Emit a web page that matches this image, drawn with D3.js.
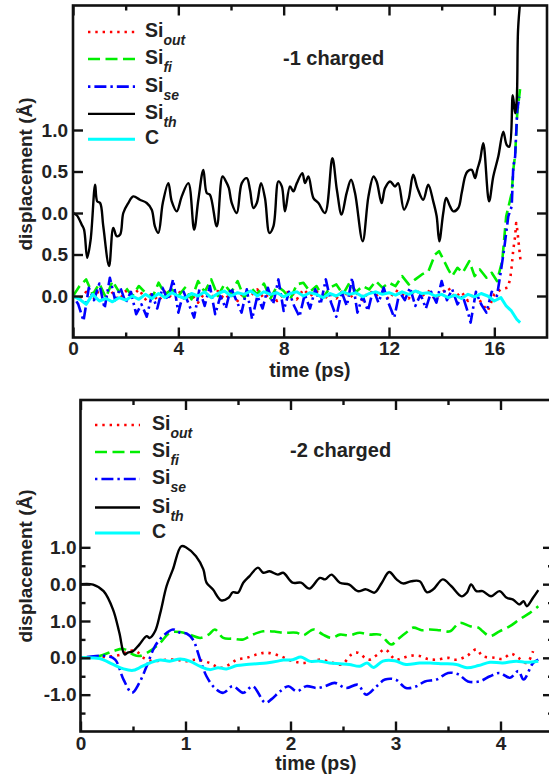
<!DOCTYPE html>
<html><head><meta charset="utf-8">
<script src="https://cdn.jsdelivr.net/npm/d3@7"></script>
<style>
body{margin:0;background:#fff}
svg text{font-family:"Liberation Sans",Arial,Helvetica,sans-serif;font-weight:bold;fill:#222}
</style>
</head><body>
<svg id="c" width="549" height="777"></svg>
<script>
// ---------------- DATA ----------------
// Top panel (-1 charged), time in ps, displacement (offset coordinates as plotted)
const topOutT = [0,0.25,0.5,0.75,1,1.25,1.5,1.75,2,2.25,2.5,2.75,3,3.25,3.5,3.75,4,4.25,4.5,4.75,5,5.25,5.5,5.75,6,6.25,6.5,6.75,7,7.25,7.5,7.75,8,8.25,8.5,8.75,9,9.25,9.5,9.75,10,10.25,10.5,10.75,11,11.25,11.5,11.75,12,12.25,12.5,12.75,13,13.25,13.5,13.75,14,14.25,14.5,14.75,15,15.25,15.5,15.75,16,16.25,16.5,16.6,16.66,16.72,16.79,16.83,16.87,16.95,16.99];
const topOutV = [0,-0.03,0.05,-0.06,0.08,-0.02,0.04,-0.05,0.06,0,0.08,-0.04,0.03,-0.06,0.05,-0.02,0.07,-0.05,0.02,-0.08,0.04,-0.02,0.06,-0.04,0.03,-0.06,0.05,0,0.08,-0.03,0.04,-0.06,0.02,0.06,-0.04,0.08,0,0.06,-0.05,0.03,-0.03,0.07,-0.02,0.04,-0.05,0.06,0,0.05,-0.04,0.07,0.02,-0.03,0.08,0,0.06,-0.04,0.04,0.1,-0.02,0.05,-0.06,0.04,-0.08,-0.18,0.02,0.08,0.1,0.2,0.36,0.56,0.72,0.88,0.8,0.56,0.44];

const topFiT = [0,0.25,0.5,0.75,1,1.25,1.5,1.75,2,2.25,2.5,2.75,3,3.25,3.5,3.75,4,4.25,4.5,4.75,5,5.25,5.5,5.75,6,6.25,6.5,6.75,7,7.25,7.5,7.75,8,8.25,8.5,8.75,9,9.25,9.5,9.75,10,10.25,10.5,10.75,11,11.25,11.5,11.75,12,12.25,12.5,12.75,13,13.25,13.5,13.75,13.9,14,14.25,14.4,14.6,14.8,15.05,15.25,15.45,15.7,15.9,16.1,16.3,16.45,16.66,16.72,16.79,16.87,16.98];
const topFiV = [0,0.12,0.2,0.02,0.15,-0.02,0.18,0.05,0.1,0,0.12,0.04,-0.03,0.16,0.02,0.08,0,0.1,-0.04,0.18,0.05,0.2,0,0.14,0.04,0.18,-0.02,0.1,0.02,0.15,-0.03,0.12,0.06,-0.04,0.14,0.16,0.05,0.12,-0.02,0.1,0.14,0.02,0.16,0.05,0.12,0.08,0.18,0.1,0.16,0.12,0.24,0.14,0.2,0.26,0.3,0.5,0.54,0.48,0.32,0.24,0.34,0.28,0.42,0.24,0.32,0.22,0.28,0.18,0.42,0.96,1.24,1.52,1.7,2.2,2.5];

const topSeT = [0,0.2,0.4,0.6,0.8,1,1.2,1.4,1.6,1.8,2,2.2,2.4,2.6,2.8,3,3.2,3.4,3.6,3.8,4,4.2,4.4,4.6,4.8,5,5.2,5.4,5.6,5.8,6,6.2,6.4,6.6,6.8,7,7.2,7.4,7.6,7.8,8,8.2,8.4,8.6,8.8,9,9.2,9.4,9.6,9.8,10,10.2,10.4,10.6,10.8,11,11.2,11.4,11.6,11.8,12,12.2,12.4,12.6,12.8,13,13.2,13.4,13.6,13.8,14,14.2,14.4,14.6,14.8,15,15.1,15.3,15.5,15.7,15.9,16.1,16.22,16.37,16.53,16.66,16.72,16.79,16.87,16.95];
const topSeV = [0,-0.1,-0.3,0.1,-0.05,0.15,-0.15,0.22,-0.05,0.1,-0.08,0.05,-0.22,-0.1,-0.25,0.02,-0.15,0.1,-0.05,0.2,-0.2,0.05,-0.1,-0.26,0.08,-0.12,0.12,-0.22,0,-0.15,0.1,-0.05,-0.2,0.08,-0.28,0,-0.15,0.1,-0.1,0.2,-0.18,0.05,-0.12,-0.25,0.02,-0.15,0.08,-0.1,0.2,-0.08,-0.25,0.05,-0.12,0.22,-0.2,0,-0.18,0.08,-0.08,0.1,-0.1,-0.26,0.05,-0.05,0.1,-0.12,0.02,-0.15,0.05,-0.08,0.18,-0.05,0.08,-0.1,0,-0.2,-0.32,0.05,-0.1,-0.2,0.05,0,0.24,0.56,0.96,1.08,1.56,1.68,2.24,2.4];

const topThT = [0,0.15,0.33,0.42,0.54,0.67,0.84,0.92,1.03,1.15,1.37,1.53,1.66,1.79,1.91,2.1,2.29,2.54,2.8,2.99,3.11,3.24,3.41,3.62,3.75,3.94,4.13,4.38,4.6,4.76,4.95,5.08,5.2,5.46,5.68,5.84,5.92,6.03,6.22,6.41,6.6,6.72,6.85,6.98,7.14,7.29,7.46,7.61,7.8,7.93,8.05,8.24,8.37,8.5,8.71,8.81,8.94,9.13,9.32,9.57,9.85,10.02,10.2,10.39,10.56,10.71,11,11.22,11.41,11.53,11.72,11.85,12.04,12.23,12.35,12.57,12.74,12.92,13.08,13.3,13.49,13.68,13.81,13.91,14.06,14.17,14.32,14.44,14.63,14.76,14.89,14.98,15.14,15.27,15.35,15.46,15.58,15.8,15.96,16.15,16.34,16.47,16.57,16.7,16.79,16.85,16.9,16.98,17.05];
const topThV = [1,0.97,0.86,0.8,0.46,0.68,1.34,1.14,1.12,0.84,0.36,0.82,0.72,0.74,1,1.12,1.2,1.16,1.12,1.04,0.84,0.76,1.12,1.36,1.14,1.02,1.2,1.36,0.8,1.16,1.52,1.24,1.22,0.84,1.44,1.36,1.3,1.12,1,1.36,1.42,1.28,1.06,1.12,1.36,1.18,0.76,0.84,1.38,1.32,1.02,1.32,1.26,1.36,1.48,1.36,1.44,1.18,1.12,1,1.66,1.28,0.98,1.24,1.4,1.24,0.66,1.2,1.44,1.38,1.12,1.3,1.38,1.32,1.36,1.04,1.16,1.46,1.3,1.16,1.34,1.14,0.96,0.66,1,1.18,1.08,1.02,1.06,1.24,1.44,1.5,1.52,1.42,1.52,1.64,1.84,1.14,1.44,1.68,1.98,1.82,1.8,2.42,2.2,2.36,3.2,3.56,3.9];

const topCT = [0,0.25,0.5,0.75,1,1.25,1.5,1.75,2,2.25,2.5,2.75,3,3.25,3.5,3.75,4,4.25,4.5,4.75,5,5.25,5.5,5.75,6,6.25,6.5,6.75,7,7.25,7.5,7.75,8,8.25,8.5,8.75,9,9.25,9.5,9.75,10,10.25,10.5,10.75,11,11.25,11.5,11.75,12,12.25,12.5,12.75,13,13.25,13.5,13.75,14,14.25,14.5,14.75,15,15.25,15.5,15.75,16,16.25,16.45,16.65,16.85,16.98];
const topCV = [0,-0.04,-0.1,0.02,-0.06,-0.03,-0.07,-0.02,-0.05,0,-0.04,0.02,-0.03,0.03,-0.02,0.04,0,-0.03,0.03,0,0.05,-0.02,0.03,0.06,0,0.04,0.02,0.06,0,0.05,0.02,0.04,-0.01,0.03,0.05,0,0.04,0.02,-0.02,0.03,0,0.05,0.02,0.04,-0.01,0.03,0.05,0.02,0.04,0.01,0.05,0.02,0.06,0.03,0.04,0,0.02,-0.02,0.01,-0.03,0.02,-0.01,0.03,0,-0.06,-0.02,-0.12,-0.18,-0.28,-0.32];

// Bottom panel (-2 charged)
const botOutT = [0,0.25,0.39,0.45,0.53,0.6,0.69,0.79,0.91,1.01,1.1,1.23,1.33,1.42,1.49,1.58,1.68,1.77,1.9,2.02,2.12,2.22,2.28,2.41,2.49,2.58,2.64,2.71,2.75,2.83,2.9,3,3.07,3.15,3.23,3.31,3.39,3.5,3.58,3.68,3.77,3.83,3.95,4.02,4.1,4.17,4.25,4.31];
const botOutV = [0,0.03,0.09,0.18,0.18,0,-0.09,-0.06,-0.05,-0.09,-0.05,-0.14,-0.27,-0.18,-0.05,0,0.09,0.14,0.05,-0.09,-0.14,-0.09,-0.05,-0.14,-0.18,0.09,0.14,0,-0.05,0.09,0.23,-0.05,0,0.06,0.05,-0.03,-0.05,0,-0.05,0.05,0.23,0.05,0,-0.03,0.11,0,-0.14,0.18];

const botFiT = [0,0.18,0.31,0.41,0.5,0.56,0.66,0.76,0.85,0.95,1.04,1.14,1.22,1.28,1.36,1.45,1.55,1.64,1.74,1.86,1.93,2.06,2.12,2.22,2.31,2.39,2.47,2.56,2.66,2.75,2.85,2.96,3.02,3.1,3.17,3.25,3.33,3.42,3.52,3.61,3.71,3.79,3.83,3.9,3.99,4.09,4.18,4.28,4.36];
const botFiV = [0,0.05,0.18,0.24,0.09,0.05,0.18,0.41,0.68,0.7,0.63,0.54,0.63,0.77,0.54,0.52,0.5,0.63,0.72,0.71,0.68,0.68,0.61,0.77,0.63,0.54,0.63,0.61,0.68,0.63,0.63,0.36,0.5,0.68,0.82,0.75,0.77,0.75,0.72,0.95,0.86,0.82,0.72,0.59,0.72,0.86,1.04,1.22,1.4];

const botSeT = [0,0.25,0.33,0.41,0.49,0.56,0.63,0.71,0.8,0.88,0.95,1.01,1.07,1.14,1.2,1.28,1.36,1.45,1.55,1.64,1.76,1.82,1.9,1.98,2.06,2.15,2.25,2.33,2.42,2.53,2.64,2.72,2.82,2.9,3,3.1,3.2,3.28,3.39,3.5,3.6,3.69,3.8,3.9,3.99,4.09,4.17,4.22,4.31,4.36];
const botSeV = [0,0.05,-0.05,-0.59,-0.95,-0.68,-0.23,0.32,0.63,0.77,0.68,0.66,0.5,-0.05,-0.5,-0.82,-0.95,-0.77,-0.95,-0.77,-1.22,-1.12,-0.91,-0.77,-0.91,-0.77,-0.82,-0.77,-0.68,-0.82,-0.73,-1,-0.77,-0.59,-0.59,-0.82,-0.77,-0.64,-0.59,-0.41,-0.45,-0.64,-0.64,-0.5,-0.41,-0.54,-0.36,-0.59,-0.14,-0.05];

const botThT = [0,0.12,0.22,0.31,0.37,0.42,0.45,0.5,0.56,0.63,0.66,0.71,0.76,0.82,0.88,0.96,1.01,1.1,1.17,1.2,1.26,1.34,1.41,1.45,1.5,1.55,1.61,1.69,1.74,1.8,1.88,1.93,2.02,2.1,2.18,2.28,2.33,2.39,2.47,2.56,2.64,2.72,2.8,2.87,2.94,3.01,3.07,3.15,3.23,3.3,3.36,3.45,3.53,3.63,3.68,3.72,3.77,3.83,3.91,3.99,4.06,4.12,4.18,4.22,4.25,4.31,4.36];
const botThV = [2,1.99,1.81,1.31,0.68,0.09,0.14,0.18,0.36,0.59,0.54,0.72,1.22,1.95,2.4,3.03,2.99,2.76,2.4,2.04,1.86,1.56,1.63,1.78,1.77,2.04,2.22,2.45,2.31,2.35,2.26,2.31,2.04,2.04,1.88,2.17,2.13,2.26,2.04,1.99,1.81,1.86,1.77,2.04,2.33,2.13,2.02,2.08,2.08,1.78,1.86,2.13,1.95,1.67,1.77,1.99,1.81,1.81,1.67,1.81,1.63,1.58,1.45,1.54,1.4,1.63,1.84];

const botCT = [0,0.18,0.31,0.41,0.5,0.56,0.66,0.76,0.85,0.95,1.04,1.14,1.23,1.31,1.39,1.49,1.58,1.68,1.77,1.88,1.93,2.02,2.1,2.18,2.28,2.37,2.47,2.56,2.66,2.73,2.79,2.88,2.99,3.1,3.23,3.33,3.45,3.58,3.68,3.79,3.9,4.02,4.15,4.25,4.36];
const botCV = [0,-0.02,-0.18,-0.3,-0.34,-0.27,-0.14,-0.06,-0.09,-0.03,-0.09,-0.23,-0.32,-0.27,-0.3,-0.21,-0.18,-0.16,-0.14,-0.09,-0.06,-0.05,0.02,-0.09,-0.09,-0.14,-0.16,-0.18,-0.23,-0.14,-0.26,-0.09,-0.08,-0.18,-0.14,-0.14,-0.16,-0.18,-0.27,-0.21,-0.12,-0.14,-0.09,-0.12,-0.09];

// Tick labels
const topXTicks = [0,4,8,12,16], topXMinor = [2,6,10,14];
const topYTicks = [0,0.5,1,1.5,2], topYLabels = ["0.0","0.5","0.0","0.5","1.0"];
const botXTicks = [0,1,2,3,4], botXMinor = [0.5,1.5,2.5,3.5];
const botYTicks = [-1,0,1,2,3], botYLabels = ["-1.0","0.0","1.0","0.0","1.0"], botYMinor = [-1.5,-0.5,0.5,1.5,2.5];

const seriesNames = ["out","fi","se","th","C"];
// ---------------- STYLE ----------------
const styles = {
  out:{color:"#ff0000", w:2.6, dash:"2.4,4.9"},
  fi: {color:"#00ee00", w:2.6, dash:"12,5.5"},
  se: {color:"#0000ff", w:2.6, dash:"2.4,4,12,4"},
  th: {color:"#000000", w:2.4, dash:null},
  C:  {color:"#00ffff", w:3.0, dash:null}
};

const svg = d3.select("#c");

function zip(T,V){ return T.map((t,i)=>[t,V[i]]); }

function panel(cfg){
  const x = d3.scaleLinear().domain(cfg.xd).range([cfg.l, cfg.r]);
  const y = d3.scaleLinear().domain(cfg.yd).range([cfg.b, cfg.t]);
  const g = svg.append("g");
  const cid = "clip"+cfg.id;
  svg.append("defs").append("clipPath").attr("id",cid).append("rect")
    .attr("x",cfg.l).attr("y",cfg.t).attr("width",cfg.r-cfg.l).attr("height",cfg.b-cfg.t);
  const lines = g.append("g").attr("clip-path",`url(#${cid})`);
  const order = ["out","fi","se","C","th"];
  order.forEach(k=>{
    const s = styles[k];
    const cv = (k==="th" && cfg.curveTh) ? cfg.curveTh : cfg.curve;
    const line = d3.line().x(d=>x(d[0])).y(d=>y(d[1])).curve(cv);
    const p = lines.append("path").datum(cfg.data[k]).attr("d",line)
      .attr("fill","none").attr("stroke",s.color).attr("stroke-width",s.w)
      .attr("stroke-linejoin","round");
    if(s.dash) p.attr("stroke-dasharray",s.dash);
  });
  // axes (inward ticks)
  const ax = (a, tr, vals, size, fmt) => {
    const gg = g.append("g").attr("transform",tr).call(a.tickValues(vals).tickSize(size).tickFormat(fmt));
    gg.select(".domain").remove();
    gg.selectAll("line").attr("stroke","#111").attr("stroke-width",2.4);
    gg.selectAll("text").attr("font-size",19).attr("fill","#222");
    return gg;
  };
  const none = ()=>"";
  ax(d3.axisBottom(x).tickPadding(cfg.xpad), `translate(0,${cfg.b})`, cfg.xt, -10, d=>String(d));
  ax(d3.axisBottom(x), `translate(0,${cfg.b})`, cfg.xm, -5, none);
  ax(d3.axisTop(x), `translate(0,${cfg.t})`, cfg.xt, -10, none);
  ax(d3.axisTop(x), `translate(0,${cfg.t})`, cfg.xm, -5, none);
  ax(d3.axisLeft(y).tickPadding(cfg.ypad), `translate(${cfg.l},0)`, cfg.yt, -10, (d,i)=>cfg.yl[i]);
  ax(d3.axisRight(y), `translate(${cfg.r},0)`, cfg.yt, -10, none);
  if(cfg.ym){
    ax(d3.axisLeft(y), `translate(${cfg.l},0)`, cfg.ym, -5, none);
    ax(d3.axisRight(y), `translate(${cfg.r},0)`, cfg.ym, -5, none);
  }
  // frame
  g.append("rect").attr("x",cfg.l).attr("y",cfg.t).attr("width",cfg.r-cfg.l).attr("height",cfg.b-cfg.t)
    .attr("fill","none").attr("stroke","#111").attr("stroke-width",2.6);
  // titles
  g.append("text").attr("x",cfg.xtx).attr("y",cfg.xty).attr("text-anchor","middle").attr("font-size",19.5).text("time (ps)");
  g.append("text").attr("transform",`translate(${cfg.ytx},${cfg.yty}) rotate(-90)`).attr("text-anchor","middle")
    .attr("font-size",19).text("displacement (Å)");
  g.append("text").attr("x",cfg.lab[0]).attr("y",cfg.lab[1]).attr("font-size",20).text(cfg.label);
  // legend
  seriesNames.forEach((k,i)=>{
    const s = styles[k];
    const ly = cfg.leg.y0 + i*cfg.leg.dy[i];
    const ll = g.append("line").attr("x1",cfg.leg.x0).attr("x2",cfg.leg.x1).attr("y1",ly).attr("y2",ly)
      .attr("stroke",s.color).attr("stroke-width",s.w);
    if(s.dash) ll.attr("stroke-dasharray",s.dash);
    const tx = g.append("text").attr("x",cfg.leg.tx).attr("y",ly+5).attr("font-size",19.5);
    if(k==="C"){ tx.text("C"); }
    else {
      tx.append("tspan").text("Si");
      tx.append("tspan").attr("dy",8).attr("font-size",14).attr("font-style","italic").text(k);
    }
  });
}

panel({
  id:"top", xd:[0,18], yd:[-0.5,3.5], l:73, r:547, t:5.5, b:337.5,
  xt:topXTicks, xm:topXMinor, yt:topYTicks, yl:topYLabels, ym:null,
  xpad:4, ypad:5, curve:d3.curveLinear, curveTh:d3.curveCatmullRom.alpha(0.5),
  data:{out:zip(topOutT,topOutV), fi:zip(topFiT,topFiV), se:zip(topSeT,topSeV), th:zip(topThT,topThV), C:zip(topCT,topCV)},
  xtx:310, xty:377, ytx:32, yty:174, label:"-1 charged", lab:[283,65],
  leg:{x0:88, x1:135, tx:145, y0:32, dy:[27,27,27.3,27.3,26.8]}
});
panel({
  id:"bot", xd:[0,4.5], yd:[-2,7], l:80.5, r:553, t:400, b:731.5,
  xt:botXTicks, xm:botXMinor, yt:botYTicks, yl:botYLabels, ym:botYMinor,
  xpad:5, ypad:4, curve:d3.curveCatmullRom.alpha(0.5),
  data:{out:zip(botOutT,botOutV), fi:zip(botFiT,botFiV), se:zip(botSeT,botSeV), th:zip(botThT,botThV), C:zip(botCT,botCV)},
  xtx:316, xty:770, ytx:32, yty:566, label:"-2 charged", lab:[290,457],
  leg:{x0:95, x1:140, tx:152, y0:425, dy:[27,27,27,27.5,27]}
});
</script>
</body></html>
